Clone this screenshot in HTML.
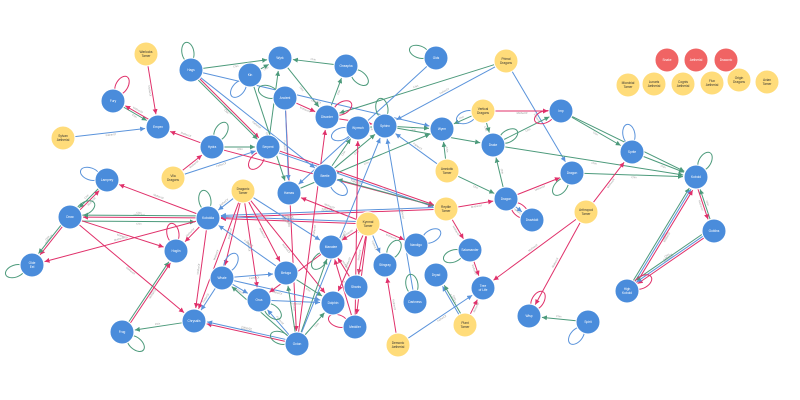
<!DOCTYPE html>
<html><head><meta charset="utf-8"><style>
body{margin:0;background:#fff;width:800px;height:400px;overflow:hidden}
svg{display:block}
text{font-family:"Liberation Sans",sans-serif;text-anchor:middle;dominant-baseline:middle}
</style></head><body>
<svg id="s" width="800" height="400" xmlns="http://www.w3.org/2000/svg">
<defs>
<marker id="mg" viewBox="0 0 6 6" refX="6" refY="3" markerWidth="5" markerHeight="5" orient="auto"><path d="M0,0L6,3L0,6z" fill="#4c9a7b"/></marker>
<marker id="mr" viewBox="0 0 6 6" refX="6" refY="3" markerWidth="5" markerHeight="5" orient="auto"><path d="M0,0L6,3L0,6z" fill="#e0306a"/></marker>
<marker id="mb" viewBox="0 0 6 6" refX="6" refY="3" markerWidth="5" markerHeight="5" orient="auto"><path d="M0,0L6,3L0,6z" fill="#5a93db"/></marker>
</defs>
<g id="e"></g><g id="n"></g>
</svg>
<script>
var N={
Hags:[191,70,'b','Hags'],Kin:[250,75,'b','Kin'],Wyrk:[280,58,'b','Wyrk'],Oneapha:[346,66,'b','Oneapha'],Fury:[113,101,'b','Fury'],Empex:[158,127,'b','Empex'],Ancient:[285,98,'b','Ancient'],Disorder:[327,117,'b','Disorder'],Wyrm2:[358,128,'b','Wyrmch'],Sphinx:[385,126,'b','Sphinx'],Hydra:[212,147,'b','Hydra'],Serpent:[268,147,'b','Serpent'],Beetle:[325,176,'b','Beetle'],Gids:[436,58,'b','Gids'],Wyrm:[442,129,'b','Wyrm'],Drake:[493,145,'b','Drake'],Imp:[561,111,'b','Imp'],Sprite:[632,152,'b','Sprite'],Dragon:[572,173,'b','Dragon'],Kobold:[696,177,'b','Kobold'],Dragon2:[506,199,'b','Dragon'],Dravid:[532,220,'b','Dravidolt'],Lamprey:[107,180,'b','Lamprey'],Ghoul:[289,193,'b','Hamas'],Drow:[70,217,'b','Drow'],Kobolda:[208,218,'b','Kobolda'],OldEel:[32,265,'b','Olde Eel'],Hoglin:[176,251,'b','Hoglin'],Wrath:[222,278,'b','Whale'],Beluga:[286,273,'b','Beluga'],Nourish:[331,247,'b','Manatee'],Orca:[259,300,'b','Orca'],Dolphin:[333,303,'b','Dolphin'],Sharks:[356,287,'b','Sharks'],Eelroy:[385,265,'b','Stingray'],Meddler:[355,327,'b','Meddler'],Nandigo:[416,245,'b','Nandigo'],Salam:[470,250,'b','Salamander'],Dryad:[436,275,'b','Dryad'],Dark:[415,302,'b','Darkness'],Tree:[483,288,'b','Tree of Life'],Wisp:[529,316,'b','Wisp'],Spirit:[588,322,'b','Spirit'],Frog:[122,332,'b','Frog'],Chrys:[194,321,'b','Chrysalis'],Colon:[297,344,'b','Octon'],Goblin:[714,231,'b','Goblins'],HighK:[627,291,'b','High Kobold'],
WT:[146,54,'y','Warlocks Tamer'],Syl:[63,138,'y','Sylvan Aetherial'],Vila:[173,178,'y','Vila Dragons'],DT:[243,191,'y','Dragonic Tamer'],PD:[506,61,'y','Primal Dragons'],VD:[483,111,'y','Vertical Dragons'],AT:[447,171,'y','Amniotic Tamer'],RT:[446,209,'y','Reptile Tamer'],KT:[368,224,'y','Kynmal Tamer'],ArT:[586,212,'y','Arthropod Tamer'],PT:[465,325,'y','Plant Tamer'],DA:[398,345,'y','Demonic Aetherial'],
y1:[628,85,'y','Microbial Tamer'],y2:[654,84,'y','Lunaris Aetherial'],y3:[683,84,'y','Cognis Aetherial'],y4:[712,83,'y','Flux Aetherial'],y5:[739,80,'y','Origin Dragons'],y6:[767,82,'y','Avian Tamer'],
r1:[667,60,'r','Snake'],r2:[696,60,'r','Aetherial'],r3:[726,60,'r','Draconic']};
var E=[
['WT','Empex','r'],['Syl','Empex','b'],['Fury','Empex','g'],['Empex','Fury','r'],['Hags','Serpent','r'],['Hags','Serpent','g'],['Hags','Wyrk','g'],['Kin','Wyrk','g'],['Oneapha','Wyrk','g'],['Wyrk','Disorder','g'],['Disorder','Oneapha','g'],['Ancient','Disorder','r'],['Ancient','Colon','r'],['Ancient','Ghoul','b'],['Hydra','Serpent','g'],['Vila','Hydra','r'],['Vila','Serpent','b'],['Serpent','Wyrk','g'],['Hydra','Empex','r'],['Hags','Beetle','b'],['Hags','Wyrm','b'],['Disorder','Sphinx','r'],['Sphinx','Wyrm','g'],['Sphinx','Drake','g'],['Wyrm2','Sphinx','g'],['Beetle','Sphinx','g'],['Beetle','Wyrm2','g'],['PD','Sphinx','b'],['PD','Disorder','g'],['PD','Dragon','b'],['VD','Imp','r'],['VD','Wyrm','g'],['VD','Drake','g'],['Drake','Imp','g'],['Imp','Sprite','g'],['Imp','Kobold','g'],['Sprite','Kobold','g'],['Drake','Kobold','g'],['Dragon','Kobold','g'],['Dragon2','Drake','g'],['Dragon2','Dragon','r'],['Dragon2','Dravid','b'],['AT','Wyrm','g'],['AT','Dragon2','g'],['AT','Sphinx','b'],['Gids','Ghoul','b'],['Ghoul','Wyrm','g'],['Serpent','RT','r'],['Serpent','RT','b'],['Hydra','RT','r'],['RT','Kobolda','r'],['RT','Kobolda','b'],['RT','Beetle','g'],['RT','Salam','r'],['RT','Dragon2','r'],['KT','Kobolda','r'],['KT','Kobolda','b'],['KT','Ghoul','r'],['KT','Nourish','r'],['KT','Eelroy','b'],['KT','Sharks','r'],['KT','Meddler','r'],['KT','Dolphin','r'],['KT','Nandigo','r'],['DT','Kobolda','b'],['DT','Wrath','r'],['DT','Beluga','r'],['DT','Orca','r'],['DT','Dolphin','r'],['DT','Nourish','b'],['DT','Chrys','r'],['Lamprey','Drow','g'],['Drow','Lamprey','r'],['Kobolda','Drow','r'],['Kobolda','Drow','g'],['Drow','Kobolda','g'],['Kobolda','Lamprey','r'],['Kobolda','OldEel','r'],['Drow','OldEel','r'],['Drow','OldEel','g'],['Drow','Hoglin','r'],['Drow','Chrys','r'],['Kobolda','Hoglin','r'],['Kobolda','Chrys','r'],['Frog','Hoglin','g'],['Frog','Hoglin','r'],['Chrys','Frog','g'],['Wrath','Chrys','b'],['Wrath','Beluga','b'],['Wrath','Dolphin','b'],['Wrath','Orca','b'],['Colon','Chrys','r'],['Colon','Chrys','b'],['Colon','Wrath','g'],['Colon','Beluga','g'],['Colon','Nourish','g'],['Colon','Dolphin','g'],['Colon','Orca','b'],['Beluga','Kobolda','b'],['Beluga','Dolphin','g'],['Orca','Dolphin','b'],['Nourish','Orca','r'],['Sharks','Nourish','r'],['Meddler','Nourish','r'],['Salam','Tree','r'],['ArT','Tree','r'],['ArT','Wisp','r'],['ArT','Sprite','r'],['Spirit','Wisp','g'],['PT','Tree','r'],['PT','Dryad','b'],['PT','Dryad','g'],['DA','Tree','b'],['DA','Eelroy','r'],['HighK','Kobold','g'],['HighK','Kobold','b'],['HighK','Kobold','r'],['Goblin','HighK','r'],['Goblin','HighK','b'],['Goblin','HighK','g'],['Goblin','Kobold','g'],['Kobold','Goblin','r'],['Dark','Sphinx','b'],['Colon','Sphinx','b'],['Meddler','Wyrm2','r'],['Colon','Disorder','r'],['Kin','Ghoul','g']];
var C={g:'#4c9a7b',r:'#e0306a',b:'#5a93db'},F={b:'#4a8cdb',y:'#ffdc7a',r:'#f06464'};
var LB={g:'Chin',r:'MotherOf',b:'FatherOf'};
var eg=document.getElementById('e'),ng=document.getElementById('n'),ns='http://www.w3.org/2000/svg',R=12;
var cnt={};
function txt(x,y,s,sz,fill,rot){var t=document.createElementNS(ns,'text');t.setAttribute('x',x);t.setAttribute('y',y);t.setAttribute('font-size',sz);t.setAttribute('fill',fill);if(rot!==undefined)t.setAttribute('transform','rotate('+rot+' '+x+' '+y+')');t.textContent=s;return t;}
E.forEach(function(e){var a=N[e[0]],b=N[e[1]];var k=[e[0],e[1]].sort().join();cnt[k]=(cnt[k]||0)+1;var off=(cnt[k]-1)*2;
var dx=b[0]-a[0],dy=b[1]-a[1],L=Math.hypot(dx,dy),ux=dx/L,uy=dy/L,px=-uy*off,py=ux*off;
var l=document.createElementNS(ns,'line');l.setAttribute('x1',a[0]+ux*R+px);l.setAttribute('y1',a[1]+uy*R+py);l.setAttribute('x2',b[0]-ux*(R+1)+px);l.setAttribute('y2',b[1]-uy*(R+1)+py);
l.setAttribute('stroke',C[e[2]]);l.setAttribute('stroke-width','1');l.setAttribute('marker-end','url(#m'+e[2]+')');eg.appendChild(l);
var ang=Math.atan2(dy,dx)*180/Math.PI;if(ang>90)ang-=180;if(ang<-90)ang+=180;
eg.appendChild(txt((a[0]+b[0])/2+px-uy*2.5,(a[1]+b[1])/2+py+ux*2.5,LB[e[2]],2.6,'#999',ang));});
var loops=['Hags','Fury','Kin','Oneapha','Ancient','Disorder','Wyrm2','Sphinx','Hydra','Serpent','Beetle','Gids','Drake','Imp','Sprite','Kobold','Dragon','Dragon2','Lamprey','Drow','OldEel','Hoglin','Wrath','Nourish','Orca','Meddler','Nandigo','Salam','Dark','Wisp','Spirit','Frog','Colon','HighK','VD','Kobolda','Eelroy'];
var angs=[-100,-60,130,40,200,-30,160];
loops.forEach(function(k,i){var a=N[k],t=angs[i%7]*Math.PI/180,cx=a[0]+Math.cos(t)*18,cy=a[1]+Math.sin(t)*18;
var el=document.createElementNS(ns,'ellipse');el.setAttribute('cx',cx);el.setAttribute('cy',cy);el.setAttribute('rx',6);el.setAttribute('ry',10);el.setAttribute('transform','rotate('+(angs[i%7]+90)+' '+cx+' '+cy+')');el.setAttribute('fill','none');el.setAttribute('stroke',C[['g','r','b','g'][i%4]]);eg.appendChild(el);});
for(var k in N){var a=N[k];var c=document.createElementNS(ns,'circle');c.setAttribute('cx',a[0]);c.setAttribute('cy',a[1]);c.setAttribute('r',R);c.setAttribute('fill',F[a[2]]);c.setAttribute('stroke','#fff');c.setAttribute('stroke-width','1');ng.appendChild(c);
var w=a[3].split(' ');var lines=w.length>1?[w[0],w.slice(1).join(' ')]:[a[3]];
lines.forEach(function(s,j){ng.appendChild(txt(a[0],a[1]+(j-(lines.length-1)/2)*4,s,3.2,a[2]=='y'?'#333':'#fff'));});}
</script>
</body></html>
